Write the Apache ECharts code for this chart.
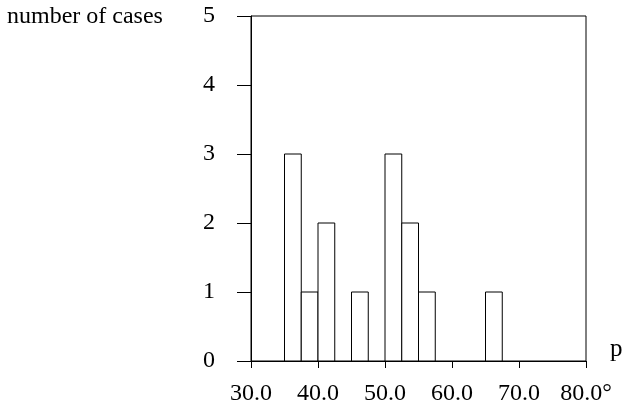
<!DOCTYPE html>
<html>
<head>
<meta charset="utf-8">
<script src="https://cdn.jsdelivr.net/npm/echarts@6/dist/echarts.min.js"></script>
<style>
  html, body { margin: 0; padding: 0; background: #fff; }
  #chart { width: 625px; height: 408px; }
</style>
</head>
<body>
<div id="chart"></div>
<script>
// histogram bins (left edge, degrees) and counts
const binStarts = [35, 37.5, 40, 45, 50, 52.5, 55, 65]
const counts = [3, 1, 2, 1, 3, 2, 1, 1]
const binWidth = 2.5
const xTickLabels = ['30.0', '40.0', '50.0', '60.0', '70.0', '80.0°']

const font = 'Liberation Serif'
const chart = echarts.init(document.getElementById('chart'))

chart.setOption({
  animation: false,
  grid: {
    left: 251,
    right: 39,
    top: 16,
    bottom: 47,
    outerBoundsMode: 'none',
    show: true,
    borderColor: '#000',
    borderWidth: 1
  },
  graphic: [{
    type: 'text',
    left: 7,
    top: 5,
    style: { text: 'number of cases', font: '24px "' + font + '"', fill: '#000' }
  }],
  xAxis: {
    type: 'value',
    min: 30,
    max: 80,
    interval: 10,
    name: 'p',
    nameLocation: 'end',
    nameGap: 24,
    nameTextStyle: { fontFamily: font, fontSize: 25, color: '#000', verticalAlign: 'bottom', lineHeight: 24 },
    axisLine: { lineStyle: { color: '#000', width: 1 } },
    axisTick: { length: 7, inside: false, lineStyle: { color: '#000' } },
    axisLabel: {
      margin: 21,
      fontFamily: font,
      fontSize: 24,
      color: '#000',
      formatter: v => xTickLabels[(v - 30) / 10]
    },
    splitLine: { show: false }
  },
  yAxis: {
    type: 'value',
    min: 0,
    max: 5,
    interval: 1,
    axisLine: { show: true, lineStyle: { color: '#000', width: 1 } },
    axisTick: { show: true, length: 14, lineStyle: { color: '#000' } },
    axisLabel: { margin: 36, fontFamily: font, fontSize: 24, color: '#000' },
    splitLine: { show: false }
  },
  series: [{
    type: 'custom',
    data: binStarts.map((s, i) => [s, s + binWidth, counts[i]]),
    renderItem(params, api) {
      const p0 = api.coord([api.value(0), 0])
      const p1 = api.coord([api.value(1), api.value(2)])
      return {
        type: 'rect',
        shape: { x: p0[0], y: p1[1], width: p1[0] - p0[0], height: p0[1] - p1[1] },
        style: { fill: '#fff', stroke: '#000', lineWidth: 1 }
      }
    }
  }]
})
</script>
</body>
</html>
